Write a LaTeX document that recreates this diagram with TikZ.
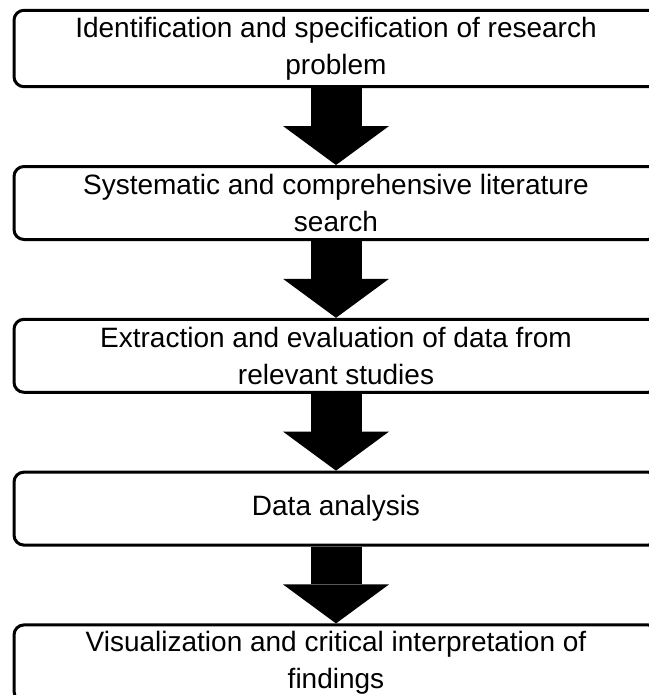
\documentclass[tikz,border=0pt]{standalone}
\usepackage{fontspec}
\setmainfont{Liberation Sans}
\usetikzlibrary{positioning}
\usetikzlibrary{arrows.meta}
\tikzset{
    stepbox/.style={draw, line width=1.5pt, rounded corners=5pt, minimum width=322pt, minimum height=36.5pt, align=center, font=\fontsize{14pt}{18.5pt}\selectfont}, % box of one step
    bigarrow/.style={line width=25.5pt, -{Triangle[width=53pt, length=19.5pt, line width=0pt]}} % thick block arrow
}

\begin{document}
\begin{tikzpicture}[node distance=38.4pt]

      \useasboundingbox (0,0) rectangle (324pt,-347.5pt);

      \node[stepbox] (problem) at (168pt,-24.25pt) {Identification and specification of research\\problem};

      \node[stepbox, below=of problem] (search) {Systematic and comprehensive literature\\search};

      \node[stepbox, below=of search] (extract) {Extraction and evaluation of data from\\relevant studies};

      \node[stepbox, below=of extract] (analysis) {Data analysis};

      \node[stepbox, below=of analysis] (visual) {Visualization and critical interpretation of\\findings};

      \draw[bigarrow] (problem) -- (search);
      \draw[bigarrow] (search) -- (extract);
      \draw[bigarrow] (extract) -- (analysis);
      \draw[bigarrow] (analysis) -- (visual);

\end{tikzpicture}
\end{document}
